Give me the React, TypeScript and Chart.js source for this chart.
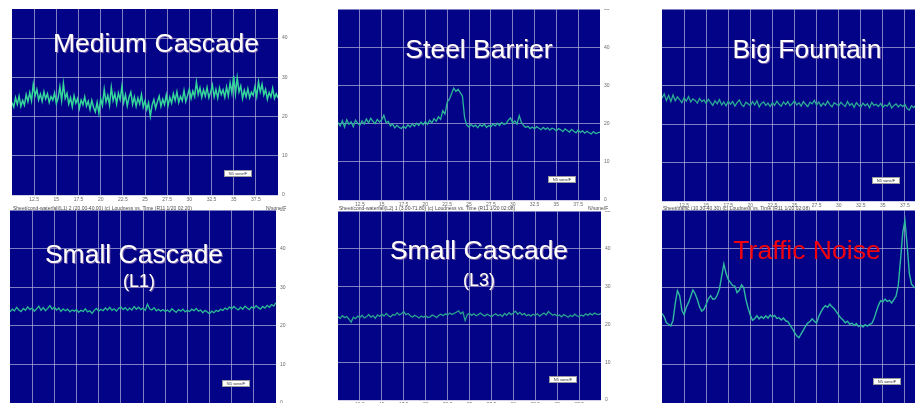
import React, { useEffect, useRef } from 'react';
import { Chart, registerables } from 'chart.js';

Chart.register(...registerables);

// Time axis (seconds) shared by every loudness-vs-time panel
const TIME_START = 10;
const TIME_END = 40;
const TIME_TICK_STEP = 2.5;
const LEVEL_TICK_STEP = 10;

// Loudness traces, evenly sampled from TIME_START to TIME_END
const mediumCascade = [
  23.6, 22.4, 24.8, 23.1, 25.2, 22.6, 24.1, 22.9, 25.6, 23.8,
  26.1, 24.0, 28.2, 25.3, 26.9, 24.2, 25.7, 23.9, 26.3, 24.5,
  25.8, 23.6, 25.1, 24.2, 26.0, 23.3, 24.7, 27.6, 24.1, 28.4,
  24.6, 25.9, 23.2, 24.8, 22.5, 25.3, 23.4, 24.6, 22.1, 24.2,
  23.0, 25.0, 22.7, 23.9, 21.8, 24.1, 22.3, 21.2, 23.6, 20.9,
  24.5, 22.8, 26.9, 23.7, 25.4, 22.9, 27.4, 24.1, 25.8, 23.2,
  26.0, 24.3, 27.7, 23.6, 25.5, 22.7, 24.9, 26.2, 23.1, 25.0,
  22.6, 24.7, 23.2, 25.6, 22.4, 24.0, 21.8, 23.5, 20.1, 22.9,
  24.3, 22.1, 23.8, 25.2, 22.6, 24.4, 23.0, 25.5, 22.8, 24.9,
  23.4, 25.8, 24.1, 26.3, 23.6, 25.1, 24.0, 26.6, 23.8, 25.4,
  27.0, 24.6, 26.5, 25.1, 28.8, 25.6, 27.3, 24.9, 26.8, 25.2,
  27.4, 24.8, 26.2, 28.0, 25.0, 26.9, 24.7, 27.3, 25.6, 26.8,
  24.9, 27.5, 25.3, 28.6, 26.0, 30.4, 25.8, 29.9, 26.3, 27.8,
  24.6, 26.7, 25.0, 27.1, 24.8, 26.2, 25.4, 27.6, 25.1, 28.9,
  26.3, 28.2, 25.5, 26.9, 24.4, 26.1, 25.0, 27.2, 24.6, 25.8,
  24.7,
];

const steelBarrier = [
  20.3, 19.4, 20.8, 19.1, 21.0, 19.8, 20.5, 19.2, 20.9, 20.1,
  19.6, 20.7, 19.9, 21.2, 20.2, 21.4, 20.6, 20.0, 21.1, 20.4,
  21.0, 22.2, 20.3, 20.6, 19.4, 19.9, 18.9, 19.6, 19.0, 18.7,
  19.3, 18.8, 19.7, 19.1, 19.9, 19.3, 20.1, 19.5, 20.4, 19.7,
  20.5, 19.8, 20.9, 20.2, 21.3, 20.6, 21.8, 21.1, 23.4, 22.5,
  25.6, 26.4, 27.8, 29.3, 28.4, 29.0, 28.1, 27.2, 21.5, 19.6,
  19.1, 19.8, 19.2, 19.6, 18.9, 19.7, 19.3, 19.9, 19.0, 19.5,
  19.2, 19.9, 19.4, 20.1, 19.5, 20.3, 19.8, 20.0, 20.9, 21.5,
  20.2, 20.7, 19.9, 22.1, 20.3, 19.5, 19.0, 19.3, 18.7, 19.1,
  18.6, 19.2, 18.8, 18.4, 19.0, 18.5, 18.9, 18.3, 18.8, 18.6,
  18.1, 18.7, 18.4, 17.9, 18.6, 18.2, 17.8, 18.5, 18.0, 17.6,
  18.3, 17.7, 18.1, 17.5, 18.0, 17.6, 17.3, 17.9, 17.4, 17.6,
  17.8,
];

const bigFountain = [
  26.8, 27.9, 26.2, 27.5, 25.9, 27.6, 26.1, 27.1, 26.4, 25.6,
  26.9, 26.0, 27.2, 25.8, 26.6, 26.2, 25.5, 26.7, 25.9, 26.3,
  25.4, 26.5, 25.7, 24.9, 26.1, 25.3, 26.4, 25.0, 25.8, 24.8,
  26.0, 25.2, 25.9, 24.7, 25.6, 26.3, 25.1, 24.6, 25.7, 25.3,
  24.8, 25.9, 25.0, 26.1, 24.5, 25.4, 25.8, 24.9, 25.5, 24.6,
  25.6, 24.9, 26.0, 25.2, 24.7, 25.8, 25.1, 25.9, 24.8, 25.4,
  26.1, 25.0, 25.6, 24.7, 25.9, 25.2, 24.6, 25.7, 25.3, 26.2,
  25.0, 25.8, 24.7, 25.5, 24.9, 26.0, 25.1, 24.5, 25.6, 25.2,
  24.8, 25.7, 25.1, 24.6, 25.9, 24.9, 25.4, 24.4, 25.6, 25.0,
  24.5, 25.5, 24.8, 25.3, 24.3, 25.7, 24.9, 25.2, 24.6, 25.4,
  24.4, 25.0, 24.7, 25.6, 24.2, 24.9, 25.3, 24.5, 25.1, 24.6,
  25.2, 24.1, 23.7, 24.8, 24.3, 25.0, 24.4, 24.7, 24.2, 24.6,
  24.5,
];

const smallCascadeL1 = [
  23.6, 24.3, 23.9, 24.8, 24.1, 23.7, 24.5, 24.0, 24.9, 24.2,
  24.6, 23.8, 24.4, 25.1, 24.0, 24.7, 23.9, 24.5, 25.2, 24.3,
  24.8, 24.1, 24.6, 23.7, 24.4, 23.9, 24.3, 23.6, 24.1, 23.8,
  24.2, 23.5, 24.0, 23.7, 24.4, 23.6, 23.9, 23.2, 24.0, 24.5,
  23.8, 24.3, 23.9, 24.6, 24.1, 24.8, 24.0, 24.4, 23.8, 24.5,
  24.9, 24.2, 24.7, 24.0, 24.6, 24.1, 25.0, 24.3, 24.8, 24.2,
  24.6, 24.0, 25.6, 24.4, 24.1, 24.7, 23.9, 24.3, 23.8, 24.2,
  23.7, 24.1, 23.6, 24.4, 23.9, 23.5, 24.2, 23.8, 24.3, 23.6,
  24.0, 23.7, 24.3, 23.9, 24.5, 23.8, 24.1, 23.4, 24.0, 23.6,
  23.1, 23.8, 23.4, 24.0, 23.7, 24.3, 24.0, 24.6, 24.2, 24.9,
  24.4, 25.0, 24.5, 24.1, 24.8, 24.3, 25.1, 24.6, 24.2, 24.9,
  24.5, 25.2, 24.7, 24.3, 25.0, 24.6, 25.3, 24.8, 25.5, 25.1,
  26.0,
];

const smallCascadeL3 = [
  22.0, 21.6, 22.3, 21.8, 22.1, 21.4, 20.6, 21.9, 21.5, 22.2,
  21.8, 22.4, 21.7, 22.0, 22.6, 21.9, 22.3, 21.6, 22.5, 22.1,
  22.7, 22.2, 22.9, 22.3, 22.0, 22.6, 22.4, 23.1, 22.5, 22.8,
  23.4, 22.6, 22.9, 22.3, 21.9, 22.4, 22.1, 21.7, 22.2, 21.9,
  22.3, 21.8, 22.0, 22.5, 22.2, 21.8, 22.4, 22.7, 22.3, 22.8,
  22.5, 23.0, 22.6, 22.9, 23.2, 23.6, 22.8, 23.3, 21.0, 22.6,
  22.9, 22.4, 22.8, 22.3, 22.6, 23.0, 22.5, 22.2, 22.7, 22.4,
  22.0, 22.5, 22.8, 22.3, 22.6, 22.1, 22.9, 22.4, 23.1, 22.6,
  23.0, 23.5, 22.7, 23.2, 22.5, 22.9, 22.3, 22.6, 22.2, 22.7,
  22.4, 22.8, 22.2, 22.6, 23.0, 22.5, 23.4, 22.9, 22.4, 22.7,
  22.2, 22.5, 22.0, 22.6, 22.3, 21.9, 22.4, 22.1, 22.7, 22.3,
  22.0, 22.5, 22.2, 22.8, 22.4, 22.9, 22.5, 23.0, 22.7, 22.6,
  22.9,
];

const trafficNoise = [
  23.2, 22.3, 20.8, 20.4, 20.0, 21.4, 25.8, 29.1, 27.8, 24.0,
  22.9, 24.8, 26.0, 27.6, 29.3, 28.3, 26.8, 24.9, 23.8, 24.3,
  25.6, 27.0, 27.8, 26.9, 27.0, 27.9, 29.5, 32.8, 36.0, 33.6,
  32.0, 31.2, 30.4, 30.3, 28.6, 29.2, 30.6, 29.9, 26.8, 24.6,
  22.7, 21.4, 21.9, 22.6, 21.8, 22.4, 21.9, 22.6, 22.0, 22.8,
  22.3, 22.7, 21.9, 22.1, 21.5, 22.0, 21.3, 21.1, 20.2, 19.3,
  18.3, 17.4, 16.9, 17.9, 18.9, 19.9, 20.7, 21.1, 21.8, 21.2,
  20.7, 22.4, 23.6, 24.6, 25.2, 24.8, 25.6, 24.9, 24.4, 23.6,
  22.8, 22.0, 21.5, 20.8, 21.2, 20.4, 20.7, 20.1, 20.6, 19.8,
  20.2, 19.7, 20.3, 19.9, 20.4, 20.6, 21.8, 23.6, 25.3, 26.5,
  26.2, 26.9, 26.3, 26.6, 25.9, 26.8, 27.7, 30.5, 37.0, 44.0,
  47.3, 41.0, 33.6, 30.8, 30.1, 29.6, 28.8, 28.2, 27.9, 27.4,
  27.0,
];

const panelSeries = [mediumCascade, steelBarrier, bigFountain, smallCascadeL1, smallCascadeL3, trafficNoise];
const panelTitles = ['Medium Cascade', 'Steel Barrier', 'Big Fountain', 'Small Cascade', 'Small Cascade', 'Traffic Noise'];
const panelSubtitles = ['', '', '', '(L1)', '(L3)', ''];
const levelMax = [47.4, 50, 50, 50, 50, 50];
const readoutLabel = 'N5 sone/F';
const captionLeft = [
  'Sheet/cond-waterfall(L1) 2 (20.00-40.00) (c) Loudness vs. Time (R11 1/20 02:20)',
  'Sheet/cond-waterfall(L2) 1 (3.00-71.80) (c) Loudness vs. Time (R11 1/20 02:08)',
  'Sheet/traffic (10.30-40.30) (c) Loudness vs. Time (R11 1/20 02:08)',
];
const captionRight = 'N/sone/F';

// Screen layout of each plot area
const boxes = [
  { left: 12, top: 9, w: 266, h: 186 },
  { left: 338, top: 9, w: 262, h: 191 },
  { left: 662, top: 9, w: 265, h: 192 },
  { left: 10, top: 210, w: 266, h: 193 },
  { left: 338, top: 211, w: 263, h: 189 },
  { left: 662, top: 210, w: 265, h: 193 },
];
const titleSpots = [
  { cx: 156, base: 52 },
  { cx: 479, base: 58 },
  { cx: 807, base: 58 },
  { cx: 134, base: 263, subCx: 139, subBase: 287 },
  { cx: 479, base: 259, subCx: 479, subBase: 286 },
  { cx: 807, base: 259 },
];
const lineColors = ['#34d69a', '#2cb698', '#2aaa92', '#2bbc94', '#2aa48e', '#2fbaa0'];
const lineWidths = [1.5, 1.3, 1.3, 1.3, 1.3, 1.4];
const readoutOffsets = [
  { dx: 212, dy: 161 },
  { dx: 210, dy: 167 },
  { dx: 210, dy: 168 },
  { dx: 212, dy: 170 },
  { dx: 211, dy: 165 },
  { dx: 211, dy: 168 },
];

const NAVY = '#030387';
const GRID = 'rgba(185,185,222,0.68)';
const AXIS_W = 24;
const AXIS_H = 9;
const FONT = '"Liberation Sans", Arial, Helvetica, sans-serif';

const plotBackground = {
  id: 'plotBackground',
  beforeDraw(chart: any) {
    const { ctx, chartArea } = chart;
    if (!chartArea) return;
    ctx.save();
    ctx.fillStyle = NAVY;
    ctx.fillRect(chartArea.left, chartArea.top, chartArea.width, chartArea.height);
    ctx.restore();
  },
};

function Panel({ index }: { index: number }) {
  const ref = useRef<HTMLCanvasElement | null>(null);
  const box = boxes[index];
  const W = box.w + AXIS_W;
  const H = box.h + AXIS_H;

  useEffect(() => {
    if (!ref.current) return;
    const values = panelSeries[index];
    const n = values.length;
    const points = values.map((v, i) => ({
      x: TIME_START + (i * (TIME_END - TIME_START)) / (n - 1),
      y: v,
    }));
    const chart = new Chart(ref.current, {
      type: 'line',
      data: {
        datasets: [
          {
            data: points,
            borderColor: lineColors[index],
            borderWidth: lineWidths[index],
            pointRadius: 0,
            tension: 0,
            fill: false,
          },
        ],
      },
      options: {
        animation: false,
        responsive: false,
        maintainAspectRatio: false,
        devicePixelRatio: 1,
        layout: { padding: 0 },
        plugins: { legend: { display: false }, tooltip: { enabled: false }, title: { display: false } },
        scales: {
          x: {
            type: 'linear',
            min: TIME_START,
            max: TIME_END,
            border: { display: false },
            grid: { color: GRID, lineWidth: 1, drawTicks: false },
            ticks: {
              stepSize: TIME_TICK_STEP,
              includeBounds: false,
              autoSkip: false,
              maxRotation: 0,
              padding: 2,
              color: '#6a6a6a',
              font: { family: FONT, size: 5 },
            },
            afterBuildTicks(scale: any) {
              scale.ticks = scale.ticks.filter((t: any) => t.value > TIME_START && t.value < TIME_END);
            },
            afterFit(scale: any) {
              scale.height = AXIS_H;
              scale.paddingLeft = 0;
              scale.paddingRight = 0;
            },
          },
          y: {
            type: 'linear',
            position: 'right',
            min: 0,
            max: levelMax[index],
            border: { display: false },
            grid: { color: GRID, lineWidth: 1, drawTicks: false },
            ticks: {
              stepSize: LEVEL_TICK_STEP,
              includeBounds: false,
              padding: 4,
              color: '#6a6a6a',
              font: { family: FONT, size: 5 },
            },
            afterFit(scale: any) {
              scale.width = AXIS_W;
              scale.paddingTop = 0;
              scale.paddingBottom = 0;
            },
          },
        },
      } as any,
      plugins: [plotBackground],
    });
    return () => chart.destroy();
  }, [index]);

  return (
    <canvas
      ref={ref}
      width={W}
      height={H}
      style={{ position: 'absolute', left: box.left, top: box.top, width: W, height: H }}
    />
  );
}

function TextAt({
  cx,
  base,
  size,
  color,
  shadow,
  children,
}: {
  cx: number;
  base: number;
  size: number;
  color: string;
  shadow: boolean;
  children: React.ReactNode;
}) {
  return (
    <div
      style={{
        position: 'absolute',
        left: cx - 200,
        width: 400,
        top: base - 0.8465 * size,
        height: size,
        lineHeight: `${size}px`,
        fontSize: size,
        fontFamily: FONT,
        color,
        textAlign: 'center',
        whiteSpace: 'nowrap',
        textShadow: shadow ? '1px 1px 0 rgba(150,120,180,0.75), 0 0 1px rgba(40,40,80,0.8)' : 'none',
        pointerEvents: 'none',
      }}
    >
      {children}
    </div>
  );
}

export default function App() {
  useEffect(() => {
    document.body.style.margin = '0';
  }, []);

  return (
    <div
      style={{
        position: 'fixed',
        left: 0,
        top: 0,
        width: 915,
        height: 403,
        overflow: 'hidden',
        background: '#ffffff',
      }}
    >
      {boxes.map((_, i) => (
        <Panel key={`p${i}`} index={i} />
      ))}

      {boxes.map((b, i) => (
        <div
          key={`r${i}`}
          style={{
            position: 'absolute',
            left: b.left + readoutOffsets[i].dx,
            top: b.top + readoutOffsets[i].dy,
            width: 26,
            height: 5,
            background: '#ffffff',
            border: '0.5px solid #9a9a9a',
            fontFamily: FONT,
            fontSize: 4,
            lineHeight: '5px',
            color: '#333',
            textAlign: 'center',
            whiteSpace: 'nowrap',
            overflow: 'hidden',
          }}
        >
          {readoutLabel}
        </div>
      ))}

      {captionLeft.map((c, i) => {
        const b = boxes[i];
        return (
          <React.Fragment key={`c${i}`}>
            <div
              style={{
                position: 'absolute',
                left: b.left + 1,
                top: 205,
                fontFamily: FONT,
                fontSize: 5,
                lineHeight: '6px',
                color: '#4a4a4a',
                whiteSpace: 'nowrap',
              }}
            >
              {c}
            </div>
            <div
              style={{
                position: 'absolute',
                left: b.left + b.w - 12,
                top: 205,
                fontFamily: FONT,
                fontSize: 5,
                lineHeight: '6px',
                color: '#4a4a4a',
                whiteSpace: 'nowrap',
              }}
            >
              {captionRight}
            </div>
          </React.Fragment>
        );
      })}

      {titleSpots.map((s, i) => (
        <React.Fragment key={`t${i}`}>
          <TextAt
            cx={s.cx}
            base={s.base}
            size={26.5}
            color={i === 5 ? '#f4000c' : '#ffffff'}
            shadow={i !== 5}
          >
            {panelTitles[i]}
          </TextAt>
          {panelSubtitles[i] && s.subCx !== undefined && s.subBase !== undefined ? (
            <TextAt cx={s.subCx} base={s.subBase} size={18} color="#ffffff" shadow>
              {panelSubtitles[i]}
            </TextAt>
          ) : null}
        </React.Fragment>
      ))}
    </div>
  );
}
